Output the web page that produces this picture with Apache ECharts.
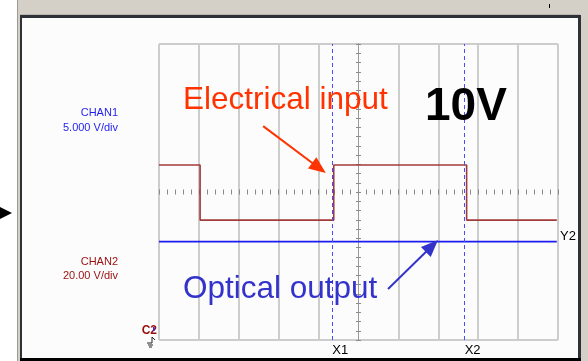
<!DOCTYPE html>
<html>
<head>
<meta charset="utf-8">
<script src="https://cdn.jsdelivr.net/npm/echarts@6/dist/echarts.min.js"></script>
<style>
  html, body { margin: 0; padding: 0; background: #fff; }
  #scope { width: 588px; height: 361px; }
</style>
</head>
<body>
<div id="scope"></div>
<script>
// Screen extent in divisions (10 horizontal, 8 vertical), centred on 0
const timeRange = [-5, 5];
const voltRange = [-4, 4];

// CHAN2 (electrical input): level held until the next edge time
const chan2Times  = [-5.0, -3.97, -0.62, 2.71, 4.97];
const chan2Levels = [0.73, -0.76, 0.73, -0.76, -0.76];

// CHAN1 (optical output): flat response
const chan1Times  = [-5.0, 4.97];
const chan1Levels = [-1.34, -1.34];

// Measurement cursors
const cursorXNames  = ['X1', 'X2'];
const cursorXValues = [-0.66, 2.66];
const cursorYName   = 'Y2';
const cursorYValue  = -1.19;

// Callout arrows: [tail, head] in divisions
const inputArrow  = [[-2.39, 1.78], [-0.99, 0.65]];
const outputArrow = [[0.74, -2.62], [1.84, -1.46]];

const FONT = '"Liberation Sans", Arial, sans-serif';

const pairs = (xs, ys) => xs.map((x, i) => [x, ys[i]]);

// Vertical graticule: the centre line is drawn by the tick axis instead
const gridColors = [];
for (let v = timeRange[0]; v <= timeRange[1]; v++) gridColors.push(v === 0 ? 'rgba(0,0,0,0)' : '#cdcdcd');

const hiddenAxisBits = { axisLabel: { show: false }, splitLine: { show: false } };

const chart = echarts.init(document.getElementById('scope'), null, { renderer: 'canvas' });

const centreTickX = (inside) => Object.assign({
  type: 'value', min: timeRange[0], max: timeRange[1], interval: 1, position: 'bottom',
  axisLine: { show: false, onZero: true },
  axisTick: { show: true, inside: inside, length: 2.5, lineStyle: { color: '#8a8a8a', width: 1 } },
  minorTick: { show: true, splitNumber: 5, length: 2.5, lineStyle: { color: '#8a8a8a', width: 1 } }
}, hiddenAxisBits);

const centreTickY = (inside) => Object.assign({
  type: 'value', min: voltRange[0], max: voltRange[1], interval: 1, position: 'left',
  axisLine: { show: true, onZero: true, lineStyle: { color: '#9a9a9a', width: 1 } },
  axisTick: { show: true, inside: inside, length: 2.5, lineStyle: { color: '#8a8a8a', width: 1 } },
  minorTick: { show: true, splitNumber: 4, length: 2.5, lineStyle: { color: '#8a8a8a', width: 1 } }
}, hiddenAxisBits);

const cursorLine = () => ({ color: '#4a4aff', width: 1, type: [4, 3], opacity: 1 });

const caption = (text, x, y, fill, font, align) => ({
  type: 'text', silent: true, z: 100,
  style: { text: text, x: x, y: y, fill: fill, font: font, align: align, verticalAlign: 'middle', textAlign: align, textVerticalAlign: 'middle' }
});

chart.setOption({
  animation: false,
  backgroundColor: '#fcfcfc',
  grid: {
    left: 159, top: 44, width: 399, height: 296,
    show: true, borderColor: '#9d9d9d', borderWidth: 1, backgroundColor: 'transparent'
  },
  xAxis: [
    {
      type: 'value', min: timeRange[0], max: timeRange[1], interval: 1, position: 'bottom',
      axisLine: { show: false, onZero: false }, axisTick: { show: false }, axisLabel: { show: false },
      splitLine: { show: true, lineStyle: { color: gridColors, width: 2 } }
    },
    centreTickX(true),
    centreTickX(false)
  ],
  yAxis: [
    {
      type: 'value', min: voltRange[0], max: voltRange[1], interval: 1,
      axisLine: { show: false, onZero: false }, axisTick: { show: false },
      axisLabel: { show: false }, splitLine: { show: false }
    },
    centreTickY(true),
    centreTickY(false)
  ],
  series: [
    {
      name: 'CHAN1', type: 'line', xAxisIndex: 0, yAxisIndex: 0,
      data: pairs(chan1Times, chan1Levels), showSymbol: false, silent: true,
      lineStyle: { color: '#1c1cf2', width: 1.8 }
    },
    {
      name: 'CHAN2', type: 'line', xAxisIndex: 0, yAxisIndex: 0, step: 'end',
      data: pairs(chan2Times, chan2Levels), showSymbol: false, silent: true,
      lineStyle: { color: '#a33a3a', width: 1.6 }
    },
    {
      name: 'cursors', type: 'line', xAxisIndex: 0, yAxisIndex: 0, data: [], silent: true,
      markLine: {
        silent: true, animation: false, symbol: 'none',
        lineStyle: cursorLine(),
        data: cursorXNames.map((n, i) => ({
          name: n, xAxis: cursorXValues[i], lineStyle: cursorLine(),
          label: { show: true, position: 'start', formatter: '{b}', color: '#000',
                   fontFamily: FONT, fontSize: 13, distance: 4, offset: [8, 0] }
        })).concat([{
          name: cursorYName, yAxis: cursorYValue,
          lineStyle: { color: 'rgba(0,0,0,0)', width: 1, type: 'solid' },
          label: { show: true, position: 'end', formatter: '{b}', color: '#000',
                   fontFamily: FONT, fontSize: 13, distance: 2 }
        }])
      }
    },
    {
      name: 'callouts', type: 'line', xAxisIndex: 0, yAxisIndex: 0, data: [], silent: true,
      markLine: {
        silent: true, animation: false, label: { show: false },
        data: [
          [
            { coord: inputArrow[0], symbol: 'none', lineStyle: { color: '#ff3300', width: 2, type: 'solid' } },
            { coord: inputArrow[1], symbol: 'triangle', symbolSize: [14, 17] }
          ],
          [
            { coord: outputArrow[0], symbol: 'none', lineStyle: { color: '#3333cc', width: 2, type: 'solid' } },
            { coord: outputArrow[1], symbol: 'triangle', symbolSize: [14, 17] }
          ]
        ]
      }
    }
  ],
  graphic: [
    // window frame around the scope display
    { type: 'rect', shape: { x: 0, y: 0, width: 17, height: 361 }, style: { fill: '#ffffff' }, silent: true },
    { type: 'rect', shape: { x: 17, y: 0, width: 571, height: 15 }, style: { fill: '#d4d0c8' }, silent: true },
    { type: 'rect', shape: { x: 17, y: 14, width: 563, height: 1 }, style: { fill: '#b9b6af' }, silent: true },
    { type: 'rect', shape: { x: 17, y: 0, width: 3, height: 361 }, style: { fill: '#d4d0c8' }, silent: true },
    { type: 'rect', shape: { x: 17, y: 0, width: 1, height: 361 }, style: { fill: '#9c9a94' }, silent: true },
    { type: 'rect', shape: { x: 581, y: 0, width: 7, height: 361 }, style: { fill: '#d4d0c8' }, silent: true },
    { type: 'rect', shape: { x: 20, y: 15, width: 561, height: 3 }, style: { fill: '#2e3238' }, silent: true },
    { type: 'rect', shape: { x: 20, y: 15, width: 2, height: 346 }, style: { fill: '#2e3238' }, silent: true },
    { type: 'rect', shape: { x: 578, y: 15, width: 3, height: 346 }, style: { fill: '#2e3238' }, silent: true },
    { type: 'rect', shape: { x: 20, y: 358, width: 561, height: 3 }, style: { fill: '#000000' }, silent: true },
    { type: 'rect', shape: { x: 549, y: 4, width: 1, height: 4 }, style: { fill: '#000000' }, silent: true },
    { type: 'polygon', shape: { points: [[0, 207], [12, 213], [0, 219]] }, style: { fill: '#000000' }, silent: true },

    // channel scale readouts
    caption('CHAN1', 118, 113, '#1f1fee', '11px ' + FONT, 'right'),
    caption('5.000 V/div', 118, 128, '#1f1fee', '11px ' + FONT, 'right'),
    caption('CHAN2', 118, 262, '#9a0e0e', '11px ' + FONT, 'right'),
    caption('20.00 V/div', 118, 276, '#9a0e0e', '11px ' + FONT, 'right'),

    // channel / ground markers at the left edge
    caption('C2', 157, 331, '#9a0e0e', 'bold 12px ' + FONT, 'right'),
    { type: 'rect', silent: true, z: 101, shape: { x: 153, y: 327, width: 1.5, height: 4 }, style: { fill: '#2a2af0' } },
    { type: 'polyline', silent: true, shape: { points: [[152, 337], [152, 343], [147, 343]] }, style: { stroke: '#222', lineWidth: 1, fill: null } },
    { type: 'polyline', silent: true, shape: { points: [[148, 345], [153, 345]] }, style: { stroke: '#222', lineWidth: 1 } },
    { type: 'polyline', silent: true, shape: { points: [[149, 347], [152, 347]] }, style: { stroke: '#222', lineWidth: 1 } },
    { type: 'polyline', silent: true, shape: { points: [[152, 337], [155, 340]] }, style: { stroke: '#222', lineWidth: 1 } },

    // callout captions
    caption('Electrical input', 183, 100.5, '#ff3300', '31.5px ' + FONT, 'left'),
    caption('10V', 425, 107, '#000000', 'bold 46px ' + FONT, 'left'),
    caption('Optical output', 183, 289.5, '#3333cc', '31.5px ' + FONT, 'left')
  ]
});
</script>
</body>
</html>
